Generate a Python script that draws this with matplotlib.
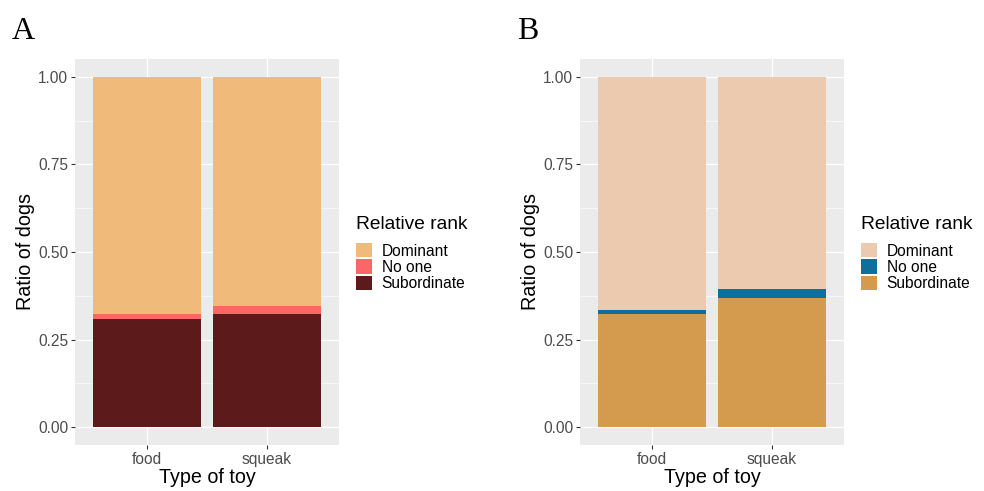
import matplotlib.pyplot as plt
from matplotlib.patches import Patch
from matplotlib.ticker import MultipleLocator
import numpy as np

toys = ["food", "squeak"]
ranks = ["Dominant", "No one", "Subordinate"]

# ratio of dogs per toy (stacked: subordinate at the bottom)
a_sub = [0.309, 0.323]
a_none = [0.014, 0.022]
a_dom = [0.677, 0.655]

b_sub = [0.323, 0.369]
b_none = [0.011, 0.025]
b_dom = [0.666, 0.606]

colors_a = ["#EFBA7A", "#F96767", "#5C1A1A"]
colors_b = ["#EBCAAF", "#0E6E9C", "#D49B4E"]

plt.rcParams["font.family"] = ["Liberation Sans", "DejaVu Sans"]

fig = plt.figure(figsize=(9.84, 4.91), dpi=100)
H = 491.0


def panel(rect, dom, none, sub, colors, letter, letter_x, leg_x):
    ax = fig.add_axes(rect)
    ax.set_facecolor("#EBEBEB")
    x = np.arange(1, len(toys) + 1)
    sub = np.array(sub)
    none = np.array(none)
    dom = np.array(dom)
    ax.bar(x, sub, width=0.9, color=colors[2], zorder=3)
    ax.bar(x, none, bottom=sub, width=0.9, color=colors[1], zorder=3)
    ax.bar(x, dom, bottom=sub + none, width=0.9, color=colors[0], zorder=3)

    ax.set_xlim(0.4, 2.6)
    ax.set_xticks(x)
    ax.set_xticklabels(toys)
    ax.yaxis.set_major_locator(MultipleLocator(0.25))
    ax.yaxis.set_minor_locator(MultipleLocator(0.125))
    ax.set_ylim(-0.05, 1.05)
    ax.set_yticks([0, 0.25, 0.5, 0.75, 1.0])
    ax.set_yticklabels(["%.2f" % v for v in [0, 0.25, 0.5, 0.75, 1.0]])
    ax.grid(which="major", color="white", linewidth=0.9, zorder=0)
    ax.grid(which="minor", axis="y", color="white", linewidth=0.45, zorder=0)
    ax.set_axisbelow(True)
    for s in ax.spines.values():
        s.set_visible(False)
    ax.tick_params(which="major", length=3, width=0.8, color="#333333",
                   labelsize=11.2, labelcolor="#4D4D4D", pad=2)
    ax.tick_params(which="minor", length=0)
    ax.set_xlabel("Type of toy", fontsize=14.2, labelpad=1)
    ax.set_ylabel("Ratio of dogs", fontsize=14.2, labelpad=2)

    fig.text(letter_x, 1 - 39 / H, letter, family="Liberation Serif",
             fontsize=23, ha="left", va="baseline")

    # legend: title and keys placed separately to get ggplot spacing
    fig.text(leg_x, 1 - 216 / H, "Relative rank", fontsize=13.8,
             ha="left", va="top")
    handles = [Patch(facecolor=c, edgecolor="none") for c in colors]
    fig.legend(handles, ranks, loc="upper left",
               bbox_to_anchor=(leg_x, 1 - 243 / H),
               frameon=False, fontsize=11.2,
               handlelength=1.05, handleheight=1.05, handletextpad=0.6,
               labelspacing=0.05, borderpad=0, borderaxespad=0)
    return ax


panel([75 / 984, 1 - 444.8 / H, 264 / 984, 385.6 / H],
      a_dom, a_none, a_sub, colors_a, "A", 12 / 984, 356 / 984)
panel([580 / 984, 1 - 444.8 / H, 264 / 984, 385.6 / H],
      b_dom, b_none, b_sub, colors_b, "B", 517 / 984, 861 / 984)

fig.savefig("out.png", dpi=100)
